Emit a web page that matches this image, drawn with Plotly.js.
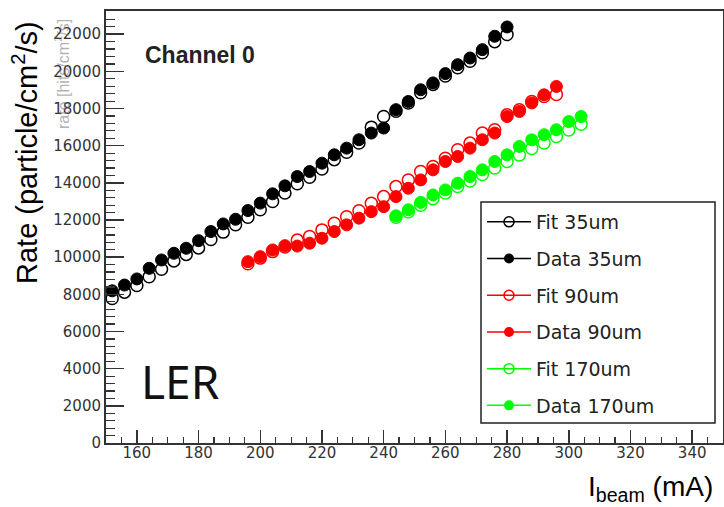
<!DOCTYPE html>
<html>
<head>
<meta charset="utf-8">
<script src="https://cdn.plot.ly/plotly-3.0.1.min.js"></script>
<style>html,body{margin:0;padding:0;background:#fff;}#chart{width:724px;height:507px;}</style>
</head>
<body>
<div id="chart"></div>
<script>
// ---- data (beam current in mA, rate in particle/cm^2/s) ----
const current35 = [152,156,160,164,168,172,176,180,184,188,192,196,200,204,208,212,216,220,224,228,232,236,240,244,248,252,256,260,264,268,272,276,280];
const data35 = [8190,8500,8830,9400,9850,10210,10480,10890,11380,11790,12040,12510,12910,13410,13840,14340,14610,15060,15510,15870,16320,16680,16950,17940,18380,19010,19380,19880,20360,20720,21170,21890,22390];
const fit35 = [7780,8120,8480,8950,9350,9800,10150,10500,10950,11350,11750,12150,12550,13000,13450,13950,14300,14750,15250,15650,16150,17000,17570,17850,18300,18850,19300,19750,20200,20550,21000,21600,21980];

const current90 = [196,200,204,208,212,216,220,224,228,232,236,240,244,248,252,256,260,264,268,272,276,280,284,288,292,296];
const data90 = [9760,10030,10390,10620,10600,10750,11020,11380,11740,12100,12450,12720,13260,13710,14160,14700,15150,15420,15870,16320,16680,17570,17840,18300,18740,19190];
const fit90 = [9650,9950,10300,10550,10920,11110,11470,11830,12180,12500,12900,13260,13800,14150,14610,14880,15330,15780,16140,16680,16860,17660,17930,18380,18650,18760];

const current170 = [244,248,252,256,260,264,268,272,276,280,284,288,292,296,300,304];
const data170 = [12230,12550,12950,13350,13620,13980,14340,14700,15150,15510,15960,16320,16590,16860,17300,17570];
const fit170 = [12150,12450,12800,13150,13450,13800,14100,14450,14800,15150,15500,15850,16150,16500,16850,17150];

const seriesNames = ["35um","90um","170um"];
const seriesColors = ["#000000","#ff0000","#00ff00"];

// ---- traces ----
const groups = [
  {x: current35, data: data35, fit: fit35},
  {x: current90, data: data90, fit: fit90},
  {x: current170, data: data170, fit: fit170}
];
const traces = [];
groups.forEach((g, i) => {
  const c = seriesColors[i];
  traces.push({x: g.x, y: g.data, type: 'scatter', mode: 'markers', showlegend: false,
    marker: {symbol: 'circle', size: 12, color: c, line: {color: c, width: 1}}});
  traces.push({x: g.x, y: g.fit, type: 'scatter', mode: 'markers', showlegend: false,
    marker: {symbol: 'circle-open', size: 12, color: c, line: {color: c, width: 1.5}}});
});
// legend entries (line + marker like ROOT "lp")
groups.forEach((g, i) => {
  const c = seriesColors[i];
  traces.push({x: [null], y: [null], type: 'scatter', mode: 'lines+markers', name: 'Fit ' + seriesNames[i],
    legendgroup: 'f' + i, line: {color: c, width: 1.5},
    marker: {symbol: 'circle-open', size: 10, color: c, line: {color: c, width: 1.5}}});
  traces.push({x: [null], y: [null], type: 'scatter', mode: 'lines+markers', name: 'Data ' + seriesNames[i],
    legendgroup: 'd' + i, line: {color: c, width: 1.5},
    marker: {symbol: 'circle', size: 10, color: c}});
});

const L = 106, R = 723, T = 11, B = 443;
const pw = R - L, ph = B - T;
const px = v => (v - L) / pw;
const py = v => (B - v) / ph;

const tickFont = {size: 15, color: '#333', family: 'DejaVu Sans, sans-serif'};

const layout = {
  width: 724, height: 507,
  margin: {l: L, r: 724 - R, t: T, b: 507 - B, pad: 0},
  paper_bgcolor: '#ffffff', plot_bgcolor: '#ffffff',
  font: {family: 'Liberation Sans, Arial, sans-serif', color: '#222'},
  xaxis: {
    range: [150, 350], showgrid: false, zeroline: false,
    showline: true, linecolor: '#333', linewidth: 2, mirror: true,
    ticks: 'inside', ticklen: 13, tickwidth: 1.5, tickcolor: '#333',
    tick0: 0, dtick: 20,
    minor: {ticks: 'inside', ticklen: 6, tickwidth: 1.2, tickcolor: '#333', dtick: 5, showgrid: false},
    tickfont: tickFont, ticklabelstandoff: -5
  },
  yaxis: {
    range: [0, 23250], showgrid: false, zeroline: false,
    showline: true, linecolor: '#333', linewidth: 2, mirror: true,
    ticks: 'inside', ticklen: 18, tickwidth: 1.5, tickcolor: '#333',
    tick0: 0, dtick: 2000, tickformat: 'd',
    minor: {ticks: 'inside', ticklen: 9, tickwidth: 1.2, tickcolor: '#333', dtick: 400, showgrid: false},
    tickfont: tickFont, ticklabelstandoff: 0
  },
  showlegend: true,
  legend: {
    x: px(482), y: py(203), xanchor: 'left', yanchor: 'top',
    bgcolor: 'rgba(0,0,0,0)', borderwidth: 0,
    font: {size: 19, color: '#222', family: 'DejaVu Sans, sans-serif'},
    tracegroupgap: 9, itemwidth: 44, traceorder: 'grouped'
  },
  shapes: [
    {type: 'rect', xref: 'paper', yref: 'paper', x0: px(481), x1: px(715), y0: py(423), y1: py(202),
     line: {color: '#222', width: 1.5}, fillcolor: '#ffffff', layer: 'above'}
  ],
  annotations: [
    {text: 'rate [hits/cm<sup>2</sup>/s]', xref: 'paper', yref: 'paper', x: px(62), y: py(74),
     xanchor: 'center', yanchor: 'middle', textangle: -90, showarrow: false,
     font: {size: 16, color: 'rgba(110,110,110,0.55)'}},
    {text: 'Rate (particle/cm<sup>2</sup>/s)', xref: 'paper', yref: 'paper', x: px(25), y: py(153),
     xanchor: 'center', yanchor: 'middle', textangle: -90, showarrow: false,
     font: {size: 29, color: '#000'}},
    {text: 'I<sub>beam</sub> (mA)', xref: 'paper', yref: 'paper', x: px(650), y: py(489),
     xanchor: 'center', yanchor: 'middle', showarrow: false,
     font: {size: 28, color: '#000'}},
    {text: '<b>Channel 0</b>', xref: 'paper', yref: 'paper', x: px(143), y: py(55),
     xanchor: 'left', yanchor: 'middle', showarrow: false,
     font: {size: 23, color: '#222'}},
    {text: 'LER', xref: 'paper', yref: 'paper', x: px(139), y: py(381),
     xanchor: 'left', yanchor: 'middle', showarrow: false,
     font: {size: 46, color: '#111', family: 'Noto Sans, sans-serif'}}
  ]
};

Plotly.newPlot('chart', traces, layout, {staticPlot: true, displayModeBar: false});
</script>
</body>
</html>
